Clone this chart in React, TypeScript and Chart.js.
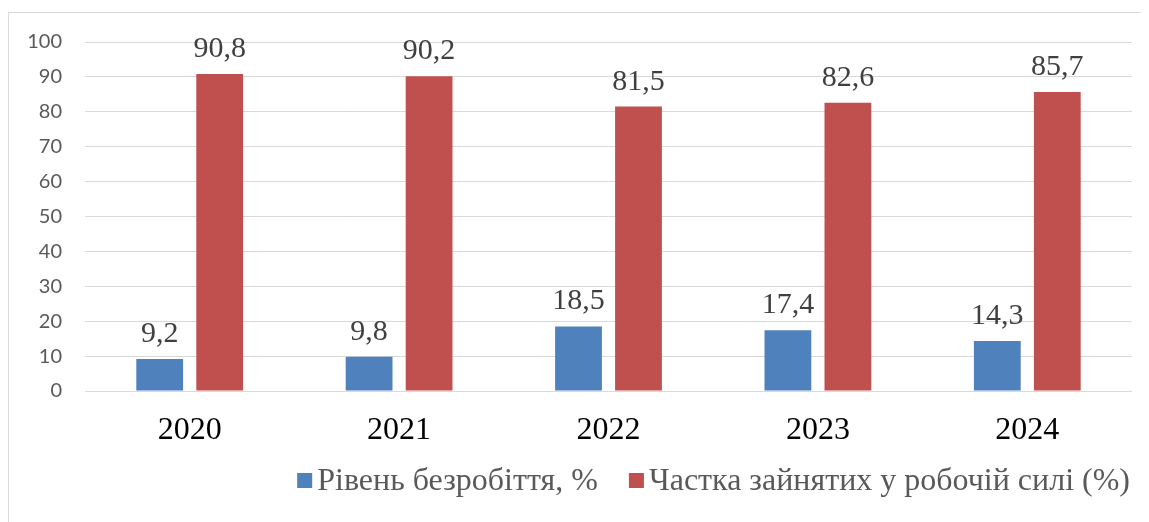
import React, { useEffect, useRef } from "react";
import { Chart, registerables } from "chart.js";

Chart.register(...registerables);

const categories = ["2020", "2021", "2022", "2023", "2024"];
const unemployment = [9.2, 9.8, 18.5, 17.4, 14.3];
const employedShare = [90.8, 90.2, 81.5, 82.6, 85.7];
const seriesNames = ["Рівень безробіття, %", "Частка зайнятих у робочій силі (%)"];
const seriesColors = ["#4F81BD", "#C0504D"];
const yTicks = [0, 10, 20, 30, 40, 50, 60, 70, 80, 90, 100];

const fmt = (v: number) => v.toFixed(1).replace(".", ",");

const dataLabels = {
  id: "dataLabels",
  afterDatasetsDraw(chart: any) {
    const ctx = chart.ctx;
    ctx.save();
    ctx.font = "30px 'Liberation Serif', serif";
    ctx.fillStyle = "#404040";
    ctx.textAlign = "center";
    ctx.textBaseline = "alphabetic";
    chart.data.datasets.forEach((ds: any, i: number) => {
      const meta = chart.getDatasetMeta(i);
      meta.data.forEach((bar: any, j: number) => {
        ctx.fillText(fmt(ds.data[j]), bar.x, bar.y - 17);
      });
    });
    ctx.restore();
  },
};

const customLegend = {
  id: "customLegend",
  afterDraw(chart: any) {
    const ctx = chart.ctx;
    ctx.save();
    ctx.font = "32px 'Liberation Serif', serif";
    const box = 15;
    const boxGap = 5;
    const itemGap = 31;
    const widths = seriesNames.map((n) => ctx.measureText(n).width);
    const total = widths.reduce((a, w) => a + w + box + boxGap, 0) + itemGap * (seriesNames.length - 1);
    let x = chart.chartArea.right - 2 - total;
    const baseline = 477;
    const boxTop = 460;
    ctx.textBaseline = "alphabetic";
    ctx.textAlign = "left";
    seriesNames.forEach((n, i) => {
      ctx.fillStyle = seriesColors[i];
      ctx.fillRect(x, boxTop, box, box);
      x += box + boxGap;
      ctx.fillStyle = "#595959";
      ctx.fillText(n, x, baseline);
      x += widths[i] + itemGap;
    });
    ctx.restore();
  },
};

export default function App() {
  const ref = useRef<HTMLCanvasElement>(null);
  useEffect(() => {
    if (!ref.current) return;
    const chart = new Chart(ref.current, {
      type: "bar",
      data: {
        labels: categories,
        datasets: [
          {
            label: seriesNames[0],
            data: unemployment,
            backgroundColor: seriesColors[0],
            categoryPercentage: 0.573,
            barPercentage: 0.78,
          },
          {
            label: seriesNames[1],
            data: employedShare,
            backgroundColor: seriesColors[1],
            categoryPercentage: 0.573,
            barPercentage: 0.78,
          },
        ],
      },
      options: {
        animation: false,
        responsive: false,
        layout: { padding: { top: 29, right: 17, left: 0, bottom: 0 } },
        plugins: { legend: { display: false }, tooltip: { enabled: false } },
        scales: {
          x: {
            grid: { display: false },
            border: { display: false },
            ticks: {
              color: "#000000",
              font: { family: "'Liberation Serif', serif", size: 32 },
              padding: 12,
            },
            afterFit: (s: any) => {
              s.height = 131;
            },
          },
          y: {
            min: 0,
            max: 100,
            afterBuildTicks: (s: any) => {
              s.ticks = yTicks.map((v) => ({ value: v }));
            },
            grid: {
              color: "#d9d9d9",
              lineWidth: 1,
              drawTicks: true,
              tickLength: 23,
              tickColor: "rgba(0,0,0,0)",
            },
            border: { display: false },
            ticks: {
              color: "#595959",
              font: { family: "Lato, sans-serif", size: 20 },
              padding: 0,
            },
            afterFit: (s: any) => {
              s.width = 76;
            },
          },
        },
      },
      plugins: [dataLabels, customLegend],
    });
    return () => chart.destroy();
  }, []);

  return (
    <div style={{ width: 1141, height: 514, overflow: "hidden", position: "relative" }}>
      <div
        style={{
          position: "absolute",
          left: 0,
          top: 4,
          width: 1160,
          height: 540,
          border: "1px solid #d9d9d9",
          boxSizing: "border-box",
        }}
      >
        <canvas ref={ref} width={1140} height={509} style={{ display: "block", width: 1140, height: 509 }} />
      </div>
    </div>
  );
}
